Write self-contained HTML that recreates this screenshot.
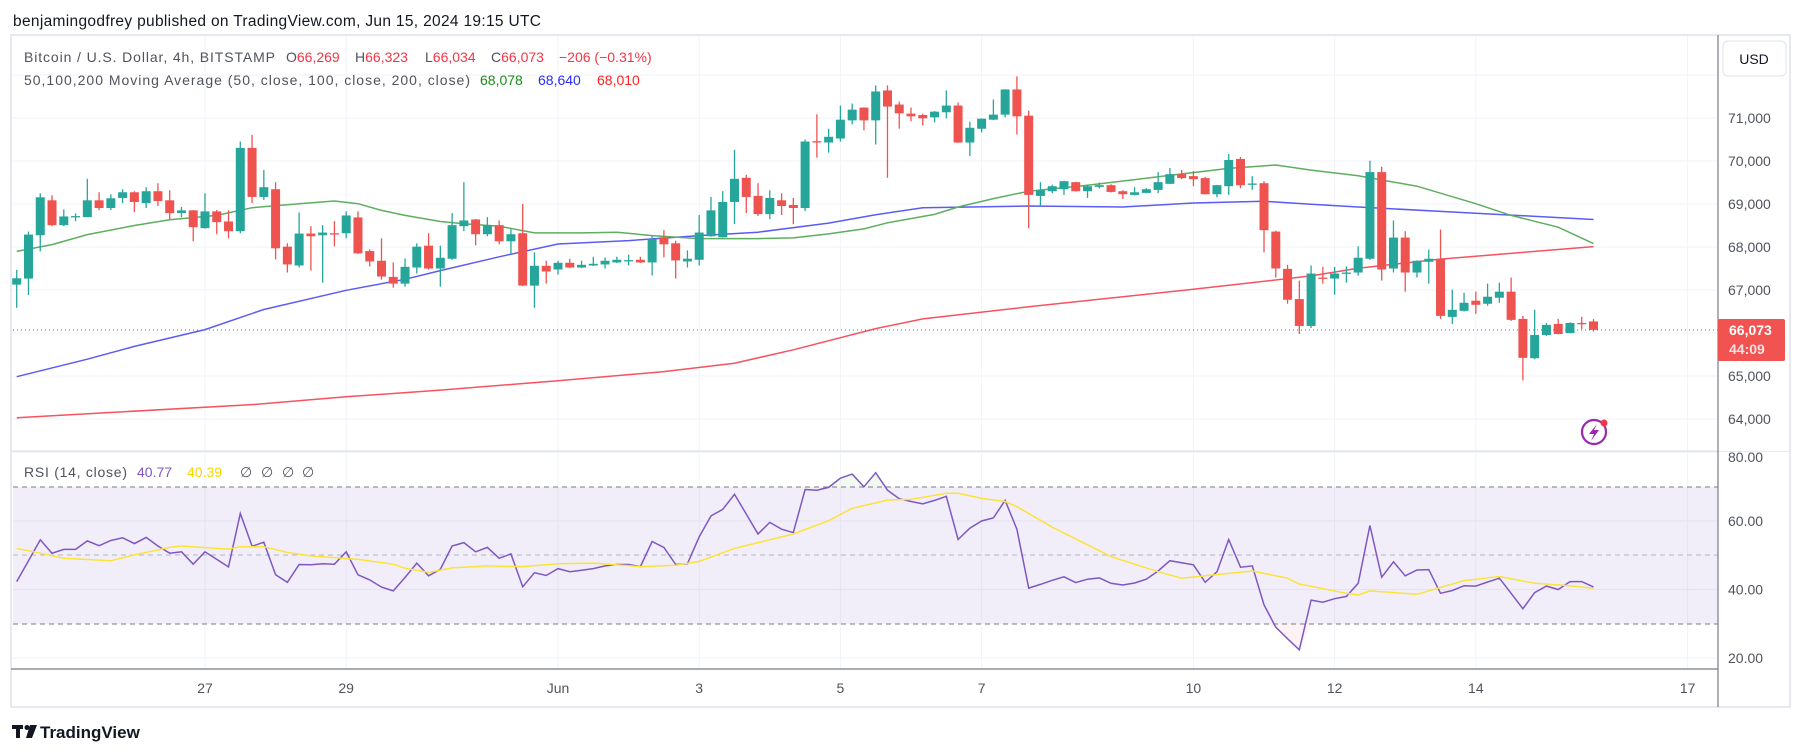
<!DOCTYPE html>
<html><head><meta charset="utf-8"><title>BTCUSD 4h chart</title>
<style>
html,body{margin:0;padding:0;background:#fff;}
svg{display:block;font-family:"Liberation Sans",sans-serif;}
</style></head>
<body>
<svg id="chart" width="1803" height="754" viewBox="0 0 1803 754" xmlns="http://www.w3.org/2000/svg">
  <rect x="0" y="0" width="1803" height="754" fill="#ffffff"/>
  <text x="13" y="26" font-size="15.5" fill="#131722" textLength="528">benjamingodfrey published on TradingView.com, Jun 15, 2024 19:15 UTC</text>
  <rect x="11" y="35" width="1779" height="672" fill="none" stroke="#e6e9f0" stroke-width="2"/>
  <g id="grid"></g>
  <rect x="13" y="487" width="1705" height="137" fill="#7e57c2" fill-opacity="0.1"/>
  <g id="rsiFills"></g>
  <line x1="13" x2="1718" y1="487" y2="487" stroke="#787b86" stroke-dasharray="5,4"/>
  <line x1="13" x2="1718" y1="555" y2="555" stroke="#b2b5be" stroke-dasharray="5,4"/>
  <line x1="13" x2="1718" y1="624" y2="624" stroke="#787b86" stroke-dasharray="5,4"/>
  <g id="mas"></g>
  <g id="candles"></g>
  <g id="rsi"></g>
  <line x1="13" x2="1718" y1="330" y2="330" stroke="#f23645" stroke-width="1" stroke-dasharray="1,3"/>
  <line x1="11" x2="1790" y1="451" y2="451" stroke="#e0e3eb" stroke-width="1.5"/>
  <line x1="1718" x2="1718" y1="35" y2="707" stroke="#787b86" stroke-width="1.2"/>
  <line x1="11" x2="1718" y1="669" y2="669" stroke="#787b86" stroke-width="1.2"/>
  <g id="axes"></g>

  <rect x="1723" y="41" width="63" height="35" rx="5" fill="#fff" stroke="#e0e3eb"/>
  <text x="1754" y="64" font-size="14" fill="#131722" text-anchor="middle">USD</text>
  <rect x="1718" y="319" width="67" height="42" rx="2" fill="#f05350"/>
  <text x="1729" y="335" font-size="14" fill="#fff" font-weight="bold">66,073</text>
  <text x="1729" y="354" font-size="14" fill="#fde2e2" font-weight="bold">44:09</text>

  <g font-size="14">
    <text x="24" y="62" fill="#50535e" textLength="251">Bitcoin / U.S. Dollar, 4h, BITSTAMP</text>
    <text x="286" y="62"><tspan fill="#50535e">O</tspan><tspan fill="#f23645">66,269</tspan><tspan fill="#50535e" x="355">H</tspan><tspan fill="#f23645">66,323</tspan><tspan fill="#50535e" x="425">L</tspan><tspan fill="#f23645">66,034</tspan><tspan fill="#50535e" x="491">C</tspan><tspan fill="#f23645">66,073</tspan><tspan fill="#f23645" x="559">−206 (−0.31%)</tspan></text>
    <text x="24" y="85" fill="#50535e" textLength="446">50,100,200 Moving Average (50, close, 100, close, 200, close)</text>
    <text x="480" y="85" fill="#1b8a1b">68,078</text>
    <text x="538" y="85" fill="#2b2bff">68,640</text>
    <text x="597" y="85" fill="#ff2020">68,010</text>
    <text x="24" y="477" fill="#50535e" textLength="103">RSI (14, close)</text>
    <text x="137" y="477" fill="#7e57c2">40.77</text>
    <text x="187" y="477" fill="#f5d800">40.39</text>
    <text x="240" y="477" fill="#50535e">∅ <tspan x="261">∅</tspan> <tspan x="282">∅</tspan> <tspan x="302">∅</tspan></text>
  </g>

  <g>
    <circle cx="1594" cy="432" r="12" fill="none" stroke="#9c27b0" stroke-width="2.2"/>
    <path d="M1597 424 L1589 434 L1594 434 L1591 441 L1599 430 L1594 430 Z" fill="#9c27b0"/>
    <circle cx="1604" cy="423" r="3.5" fill="#f23645"/>
  </g>

  <g>
    <rect x="12" y="725" width="11" height="4" fill="#131722"/>
    <rect x="16" y="725" width="4" height="13" fill="#131722"/>
    <circle cx="27" cy="727.5" r="2.5" fill="#131722"/>
    <path d="M30 725 L37 725 L32 738 L26 738 Z" fill="#131722"/>
    <text x="40" y="738" font-size="17" fill="#131722" font-weight="bold">TradingView</text>
  </g>
</svg>
<script>
// ---- data ----
const startIndex = -46; // first candle: 4h bars relative to Jun 1 00:00
const opens = [67125,67266,68273,69086,68508,68695,68695,69086,68906,69141,69273,69023,69297,69086,68789,68852,68438,68828,68594,68367,70305,69164,69344,68008,67570,68313,68273,68320,68320,68688,67906,67680,67305,67148,67523,68031,67500,67727,68484,68641,68297,68508,68133,68320,67102,67563,
67477,67633,67523,67570,67594,67641,67688,67703,67641,68227,68086,67664,67703,68250,68227,69047,69609,69188,68766,69086,68977,68906,70461,70430,70523,70945,71242,70945,71641,71313,71102,71070,71016,71133,71289,70430,70750,70961,71078,71664,71055,69188,69297,69344,69508,69297,69398,69438,69297,69211,69258,69328,69469,69695,69648,69602,69227,69414,70047,69469,69484,68359,67492,66789,66164,67289,67266,67383,67406,67727,69742,67500,68219,67406,67656,67727,66375,66516,66750,66680,66820,66961,66328,65414,65953,66211,66000,66234,66269];
const highs = [67469,68359,69250,69203,68875,68780,69586,69273,69227,69344,69297,69391,69484,69320,68930,68860,69250,68860,68852,70453,70609,69789,69508,68086,68805,68484,68508,68602,68828,68828,67945,68203,67641,67734,68086,68320,68031,68789,69508,68650,68695,68617,68414,69000,67875,67680,
67680,67727,67680,67773,67758,67773,67820,67773,68250,68391,68148,67922,68742,69164,69297,70258,69680,69484,69320,69250,69141,70500,71086,70750,71289,71336,71250,71758,71758,71383,71242,71102,71160,71641,71359,70914,70990,71430,71670,71969,71172,69508,69450,69540,69515,69450,69500,69460,69320,69391,69370,69742,69836,69789,69766,69630,69445,70164,70094,69648,69531,68380,67586,67219,67570,67539,67539,67547,68016,70008,69867,68617,68367,67690,67938,68406,67008,66938,66961,67148,67172,67289,66398,66539,66234,66328,66250,66375,66323];
const lows = [66586,66883,67898,68480,68484,68600,68695,68859,68859,69023,68813,68906,68953,68648,68695,68133,68430,68297,68203,68320,69023,69094,67711,67406,67523,67453,67172,68016,68203,67840,67547,67242,67055,67078,67383,67477,67078,67700,68367,68039,68250,68063,67852,67090,66586,67148,
67359,67510,67510,67560,67500,67630,67570,67630,67336,67758,67266,67523,67570,68240,68220,68531,68789,68719,68648,68742,68531,68836,70078,70195,70453,70852,70711,70383,69609,70750,70922,70828,70898,70992,70420,70117,70664,70950,71016,70617,68438,68953,69250,69211,69290,69141,69360,69270,69117,69200,69250,69250,69460,69580,69414,69220,69156,69211,69367,69328,67875,67289,66680,65977,66117,67148,66891,67172,67336,67700,67219,67406,66961,67289,67148,66328,66211,66500,66445,66633,66703,66281,64898,65391,65930,65970,65990,66094,66034];
const closes = [67273,68289,69156,68508,68711,68719,69086,68906,69133,69273,69047,69297,69070,68789,68852,68461,68828,68578,68367,70305,69164,69391,67969,67594,68313,68250,68336,68300,68734,67852,67664,67313,67148,67539,68008,67500,67750,68508,68617,68297,68508,68133,68297,67102,67563,67430,
67633,67523,67586,67609,67680,67703,67695,67641,68180,68063,67688,67727,68336,68852,69047,69586,69164,68766,69141,68953,68906,70453,70445,70563,70961,71195,70945,71617,71266,71109,71039,70992,71148,71289,70430,70773,70984,71078,71664,71039,69211,69320,69414,69531,69297,69414,69438,69281,69227,69273,69344,69508,69695,69602,69578,69227,69438,70023,69438,69477,68391,67500,66773,66164,67383,67281,67383,67406,67750,69742,67477,68219,67406,67680,67727,66398,66539,66703,66656,66844,66961,66305,65422,65953,66188,65977,66234,66227,66073];

const ma50Idx = [-46,-43,-40,-36,-33,-29,-26,-22,-19,-17,-15,-13,-10,-8,-5,-2,2,5,8,12,17,20,23,26,28,32,34,37,40,45,51,57,61,64,68,73,78,81,85,88];
const ma50Val = [67898,68055,68289,68500,68633,68734,68914,69008,69070,69008,68852,68734,68594,68539,68484,68328,68328,68344,68266,68195,68195,68211,68305,68422,68563,68758,68930,69125,69297,69438,69633,69828,69906,69789,69656,69414,69008,68734,68461,68078];
const ma100Idx = [-46,-40,-36,-30,-25,-18,-13,-10,-5,0,6,12,17,23,27,31,40,48,54,60,64,68,76,82,88];
const ma100Val = [64984,65391,65688,66078,66547,66992,67250,67450,67773,68070,68148,68266,68344,68555,68750,68914,68953,68930,69023,69063,68992,68930,68813,68727,68640];
const ma200Idx = [-46,-26,-18,-10,0,9,15,20,27,31,40,54,64,68,75,82,88];
const ma200Val = [64031,64336,64516,64672,64891,65102,65297,65609,66102,66328,66609,67016,67328,67508,67719,67875,68010];

const rsiVals = [42.3,48.4,54.5,50.6,51.7,51.7,54.2,52.8,54.3,55.1,53.4,55.2,52.7,50.6,51.0,47.4,51.0,48.8,46.6,62.2,52.6,53.8,44.3,42.1,47.3,47.2,47.5,47.4,51.0,44.3,42.8,40.7,39.6,43.5,47.7,44.0,45.9,52.7,53.7,51.0,52.3,49.1,50.4,40.8,44.9,44.1,46.1,45.2,45.6,46.1,
46.9,47.3,47.3,46.7,54.0,52.3,47.3,47.5,55.4,61.5,63.4,67.8,62.0,56.2,59.6,57.6,56.6,69.2,69.0,69.8,72.5,73.7,70.0,74.1,69.0,66.5,65.7,65.0,66.0,67.2,54.6,57.9,60.0,60.9,66.0,57.6,40.4,41.5,42.7,43.7,42.0,43.0,43.4,41.8,41.3,41.9,43.0,45.4,48.4,47.8,
47.2,42.1,45.2,54.6,46.5,46.9,35.5,29.0,25.6,22.4,36.9,36.3,37.3,38.0,41.8,58.7,43.6,48.1,44.0,45.7,45.8,38.9,39.7,41.1,41.0,42.2,43.3,38.9,34.4,39.1,41.0,40.0,42.3,42.3,40.77];
const rsiMaIdx = [-46,-44,-42,-38,-36,-33,-32,-28,-27,-25,-23,-21,-19,-17,-14,-13,-11,-9,-6,-3,0,3,7,10,12,15,20,23,25,28,30,33,34,36,38,39,42,47,51,53,55,59,62,63,67,68,69,73,77,80,83,86,88];
const rsiMaVal = [52.0,50.6,49.1,48.4,50.1,52.3,52.7,51.8,52.5,52.5,50.8,49.8,49.3,48.8,47.4,46.2,45.0,46.3,46.9,46.7,47.5,47.7,46.7,47.1,48.2,52.0,56.2,60.1,63.7,66.1,66.3,68.1,68.1,66.6,65.7,64.2,58.2,49.6,45.2,43.3,44.0,45.4,43.3,41.6,38.9,38.4,39.6,38.6,42.6,43.8,41.8,41.1,40.39];

const priceTicks = [64000,65000,66000,67000,68000,69000,70000,71000,72000];
const priceTickLabels = ["64,000","65,000","","67,000","68,000","69,000","70,000","71,000",""];
const rsiTicks = [20,40,60,80];
const rsiTickLabels = ["20.00","40.00","60.00","80.00"];
const dateBarIdx = [-30,-18,0,12,24,36,54,66,78,96];
const dateLabels = ["27","29","Jun","3","5","7","10","12","14","17"];

// ---- scales ----
const NS = "http://www.w3.org/2000/svg";
function xScale(i){ return 558 + i * 11.767; }
function yPrice(p){ return 118 + (71000 - p) * 0.043; }
function yRsi(r){ return 521 + (60 - r) * 3.425; }
function mk(tag, attrs, parent){
  const el = document.createElementNS(NS, tag);
  for (const k in attrs) el.setAttribute(k, attrs[k]);
  parent.appendChild(el);
  return el;
}
const grid = document.getElementById('grid');
const axes = document.getElementById('axes');

// grid + price labels
priceTicks.forEach((p, k) => {
  const y = yPrice(p);
  if (y > 36 && y < 450) {
    const l = mk('line', {x1:13, x2:1718, y1:y, y2:y, stroke:'#f0f3fa', 'stroke-width':1}, grid);
    
    
  }
  if (priceTickLabels[k]) {
    const t = mk('text', {x:1728, y:y + 5, 'font-size':14, fill:'#50535e'}, axes);
    t.textContent = priceTickLabels[k];
    
    
  }
});
rsiTicks.forEach((r, k) => {
  const y = yRsi(r);
  if (y > 452) {
    const l = mk('line', {x1:13, x2:1718, y1:y, y2:y, stroke:'#f0f3fa', 'stroke-width':1}, grid);
    
    
  }
  const ty = Math.max(y + 5, 462);
  const t = mk('text', {x:1728, y:ty, 'font-size':14, fill:'#50535e'}, axes);
  t.textContent = rsiTickLabels[k];
  
  
});
// mask top of 80.00 label (clipped by separator)
const cover = mk('rect', {x:1719, y:440, width:70, height:11, fill:'#fff'}, axes);



dateBarIdx.forEach((bi, k) => {
  const x = xScale(bi);
  const l = mk('line', {x1:x, x2:x, y1:36, y2:669, stroke:'#f0f3fa', 'stroke-width':1}, grid);
  
  
  const t = mk('text', {x:x, y:693, 'font-size':14, fill:'#50535e', 'text-anchor':'middle'}, axes);
  t.textContent = dateLabels[k];
  
  
});

// moving averages
function maPath(idx, vals){
  return idx.map((bi, k) => (k ? 'L' : 'M') + xScale(bi).toFixed(1) + ' ' + yPrice(vals[k]).toFixed(1)).join(' ');
}
const mas = document.getElementById('mas');
const m200 = mk('path', {d: maPath(ma200Idx, ma200Val), fill:'none', stroke:'#f7525f', 'stroke-width':1.5}, mas);


const m100 = mk('path', {d: maPath(ma100Idx, ma100Val), fill:'none', stroke:'#5b5bf5', 'stroke-width':1.5}, mas);


const m50 = mk('path', {d: maPath(ma50Idx, ma50Val), fill:'none', stroke:'#5fad5f', 'stroke-width':1.5}, mas);



// candles
const cg = document.getElementById('candles');
closes.forEach((c, k) => {
  const o = opens[k], h = highs[k], lo = lows[k];
  const x = xScale(startIndex + k);
  const col = c >= o ? '#26a69a' : '#ef5350';
  const g = mk('g', {}, cg);
  
  
  mk('line', {x1:x, x2:x, y1:yPrice(h), y2:yPrice(lo), stroke:col, 'stroke-width':1.3}, g);
  const top = yPrice(Math.max(o, c)), bot = yPrice(Math.min(o, c));
  mk('rect', {x:x - 4.5, y:top, width:9, height:Math.max(bot - top, 1.3), fill:col}, g);
});

// RSI
const rg = document.getElementById('rsi');
const fills = document.getElementById('rsiFills');
const rsiPts = rsiVals.map((r, k) => [xScale(startIndex + k), yRsi(r)]);
// extreme fills
let above = [], below = [];
rsiVals.forEach((r, k) => {
  if (r > 70) above.push(k);
  if (r < 30) below.push(k);
});
function fillRun(ks, level, color, name){
  if (!ks.length) return;
  const a = Math.max(ks[0] - 1, 0), b = Math.min(ks[ks.length - 1] + 1, rsiVals.length - 1);
  let d = 'M' + xScale(startIndex + a) + ' ' + yRsi(level);
  for (let k = a; k <= b; k++) {
    const r = (k === a || k === b) ? level : rsiVals[k];
    d += ' L' + xScale(startIndex + k) + ' ' + yRsi(r);
  }
  d += ' Z';
  const p = mk('path', {d: d, fill: color, 'fill-opacity': 0.25}, fills);
  
  
}
fillRun(above, 70, '#c8e6c9', 'rsi-overbought-fill');
fillRun(below, 30, '#ffcdd2', 'rsi-oversold-fill');

const rl = mk('path', {d: rsiPts.map((p, k) => (k ? 'L' : 'M') + p[0].toFixed(1) + ' ' + p[1].toFixed(1)).join(' '), fill:'none', stroke:'#7e57c2', 'stroke-width':1.5}, rg);


const sl = mk('path', {d: rsiMaIdx.map((bi, k) => (k ? 'L' : 'M') + xScale(bi).toFixed(1) + ' ' + yRsi(rsiMaVal[k]).toFixed(1)).join(' '), fill:'none', stroke:'#fbe33a', 'stroke-width':1.5}, rg);


</script>
</body></html>
